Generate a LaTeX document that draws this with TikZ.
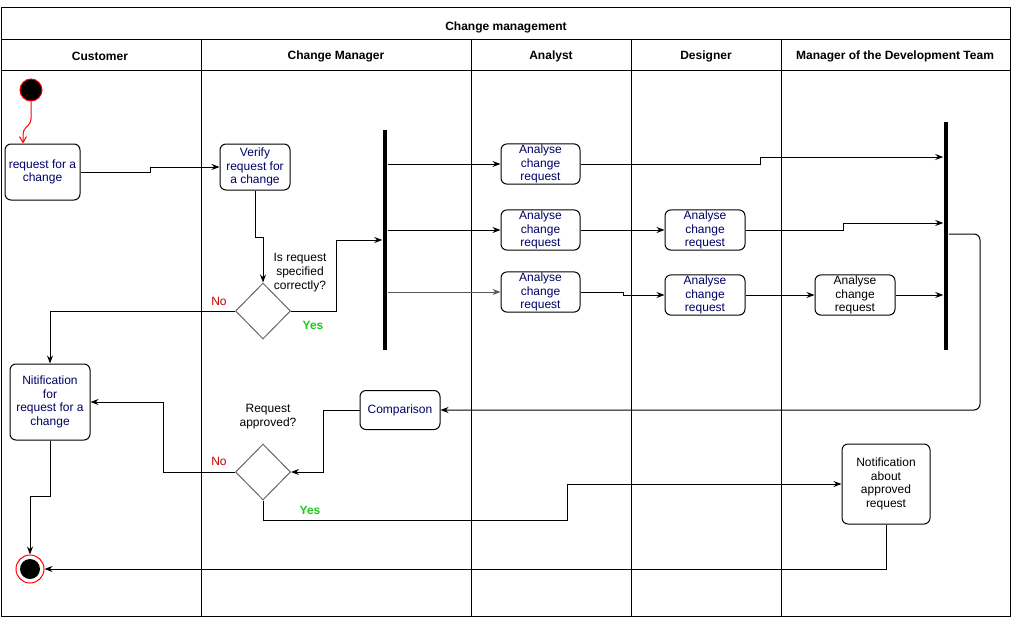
\documentclass[tikz,border=0pt]{standalone}
\usepackage{fontspec}
\setmainfont{Liberation Sans}
\usetikzlibrary{arrows.meta,shapes.geometric}

\definecolor{navy}{RGB}{0,0,102}
\definecolor{nored}{RGB}{190,0,0}
\definecolor{yesgreen}{RGB}{30,200,30}

\tikzset{
  activity/.style={draw, rounded corners=6pt, align=center, inner sep=1pt,
    text=navy, font=\fontsize{12}{13.5}\selectfont},
  decision/.style={draw=black!60, diamond, minimum width=55pt, minimum height=56pt, inner sep=0pt},
  bar/.style={fill=black, inner sep=0pt, minimum width=4.5pt},
  flow/.style={-{Stealth[length=8pt,width=6pt]}},
  lane/.style={font=\bfseries\fontsize{12}{14}\selectfont},
}

\begin{document}
\begin{tikzpicture}[x=1pt, y=-1pt, line width=1pt]
  \useasboundingbox (0,0) rectangle (1011,618);

  % Pool and lanes
  \draw (1,7.5) rectangle (1010,616);
  \draw (1,40) -- (1010,40);
  \draw (1,70) -- (1010,70);
  \foreach \x in {201,471,631,781}
    \draw (\x,40) -- (\x,616);
  \node[lane] (title) at (506,27) {Change management};
  \node[lane] (hcust) at (100,56) {Customer};
  \node[lane] (hcm) at (336,56) {Change Manager};
  \node[lane] (han) at (551,56) {Analyst};
  \node[lane] (hdes) at (706,56) {Designer};
  \node[lane] (hmgr) at (895,56) {Manager of the Development Team};

  % Start and end
  \node[circle, draw=red, fill=black, minimum size=22pt, inner sep=0pt] (start) at (31,90) {};
  \node[circle, draw=red, fill=white, minimum size=28pt, inner sep=0pt] (end) at (30,569) {};
  \fill (end) circle (10);

  % Activities
  \node[activity, minimum width=75pt, minimum height=56pt] (req) at (42.5,172) {request for a\\change};
  \node[activity, minimum width=70pt, minimum height=46pt] (verify) at (255,167) {Verify\\request for\\a change};
  \node[decision] (dec1) at (263,311) {};
  \node[bar, minimum height=220pt] (fork) at (385,240) {};
  \node[activity, minimum width=79pt, minimum height=40pt] (an1) at (540.5,164) {Analyse\\change\\request};
  \node[activity, minimum width=79pt, minimum height=40pt] (an2) at (540.5,230) {Analyse\\change\\request};
  \node[activity, minimum width=79pt, minimum height=40pt] (an3) at (540.5,292) {Analyse\\change\\request};
  \node[activity, minimum width=80pt, minimum height=40pt] (des1) at (705,230) {Analyse\\change\\request};
  \node[activity, minimum width=80pt, minimum height=40pt] (des2) at (705,295) {Analyse\\change\\request};
  \node[activity, minimum width=80pt, minimum height=40pt, text=black] (mgr) at (855,295) {Analyse\\change\\request};
  \node[bar, minimum height=228pt] (join) at (946,236) {};
  \node[activity, minimum width=80pt, minimum height=39pt] (cmp) at (400,410) {Comparison};
  \node[decision] (dec2) at (263,472) {};
  \node[activity, minimum width=80pt, minimum height=76pt] (nitif) at (50,402) {Nitification\\for\\request for a\\change};
  \node[activity, minimum width=88pt, minimum height=80pt, text=black] (notif) at (886,484) {Notification\\about\\approved\\request};

  % Labels
  \node[align=center, font=\fontsize{12}{14}\selectfont] (q1) at (300,273) {Is request\\specified\\correctly?};
  \node[align=center, font=\fontsize{12}{14}\selectfont] (q2) at (268,417) {Request\\approved?};
  \node[text=yesgreen, font=\bfseries\fontsize{12}{14}\selectfont] (yes1) at (313,325) {Yes};
  \node[text=nored, font=\fontsize{12}{14}\selectfont] (no1) at (219,301) {No};
  \node[text=nored, font=\fontsize{12}{14}\selectfont] (no2) at (219,461) {No};
  \node[text=yesgreen, font=\bfseries\fontsize{12}{14}\selectfont] (yes2) at (310,510) {Yes};

  % Flows
  \draw[red, rounded corners=4pt, -{Straight Barb[length=6pt,width=7pt]}]
    (start.south) -- (31,123) -- (23,130) -- ([xshift=-19.5pt]req.north);
  \draw[flow] (req.east) -- (150,172) |- (verify.west);
  \draw[flow] (verify.south) -- ++(0,47) -| (dec1.north);
  \draw[flow] (dec1.east) -- (336,311) |- (fork.west |- 0,240);
  \draw[flow] (dec1.west) -| (nitif.north);
  \draw[flow] (fork.east |- an1.west) -- (an1.west);
  \draw[flow] (fork.east |- an2.west) -- (an2.west);
  \draw[flow, draw=black!65] (fork.east |- an3.west) -- (an3.west);
  \draw[flow] (an1.east) -- (760,164) -- (760,157) -- (join.west |- 0,157);
  \draw[flow] (an2.east) -- (des1.west);
  \draw[flow] (des1.east) -- (843,230) -- (843,223) -- (join.west |- 0,223);
  \draw[flow] (an3.east) -- (623,292) -- (623,295) -- (des2.west);
  \draw[flow] (des2.east) -- (mgr.west);
  \draw[flow] (mgr.east) -- (join.west |- mgr.east);
  \draw[flow, rounded corners=6pt] (join.east |- 0,234) -- (980,234) -- (980,410) -- (cmp.east);
  \draw[flow] (cmp.west) -- (323,410) |- (dec2.east);
  \draw[flow] (dec2.west) -- (163,472) |- (nitif.east);
  \draw[flow] (dec2.south) -- ++(0,20) -| (567,484) -- (notif.west);
  \draw[flow] (notif.south) |- (end.east);
  \draw[flow] (nitif.south) -- (50,496) -| (end.north);

\end{tikzpicture}
\end{document}
